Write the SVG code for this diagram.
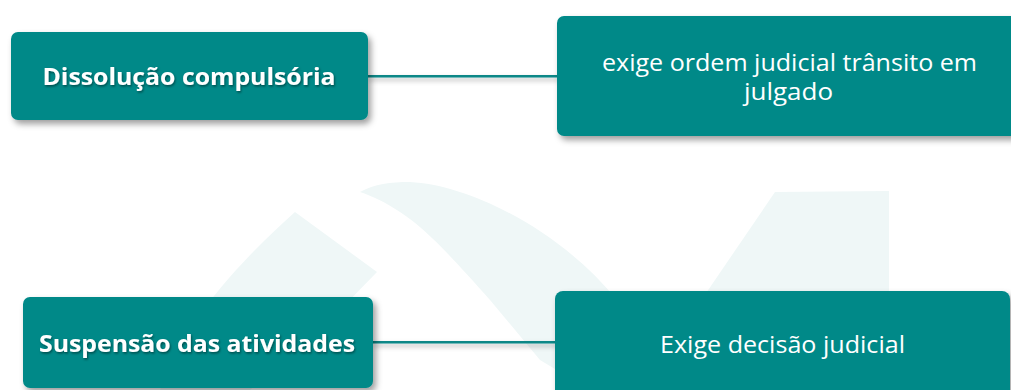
<svg xmlns="http://www.w3.org/2000/svg" width="1011" height="390" viewBox="0 0 1011 390">
  <defs>
    <filter id="sh" x="-10%" y="-20%" width="130%" height="160%">
      <feDropShadow dx="3" dy="4" stdDeviation="3" flood-color="#000" flood-opacity="0.38"/>
    </filter>
    <filter id="lsh" filterUnits="userSpaceOnUse" x="0" y="0" width="1011" height="390">
      <feDropShadow dx="2" dy="3" stdDeviation="2.5" flood-color="#000" flood-opacity="0.3"/>
    </filter>
    <filter id="tsh" x="-5%" y="-30%" width="110%" height="160%">
      <feDropShadow dx="1" dy="1.5" stdDeviation="1" flood-color="#000" flood-opacity="0.45"/>
    </filter>
    <style>
      .box { fill: #008988; filter: url(#sh); }
      .wm { fill: #eff7f7; stroke: none; }
      .conn { stroke: #0d8787; stroke-width: 2.5; fill: none; filter: url(#lsh); }
      .tb { font-family: "Open Sans", "Noto Sans", sans-serif; font-weight: 700; font-size: 24px; fill: #ffffff; text-anchor: middle; filter: url(#tsh); }
      .tr { font-family: "Open Sans", "Noto Sans", sans-serif; font-weight: 400; font-size: 23.5px; fill: #ffffff; text-anchor: middle; }
    </style>
  </defs>
  <rect width="1011" height="390" fill="#ffffff"/>
  <g id="watermark">
    <path class="wm" d="M295,212 L377,272 L340,310 L250,390 L160,390 C180,330 230,270 295,212 Z"/>
    <path class="wm" d="M360,192 C375,184 390,182 410,182 C470,185 560,230 617,300 L665,390 L590,390 L540,360 L490,300 C450,255 425,228 400,212 C385,202 372,196 360,192 Z"/>
    <path class="wm" d="M775,192 L889,191 L889,390 L640,390 Z"/>
  </g>
  <g id="connectors">
    <line class="conn" x1="367" y1="76.3" x2="558" y2="76.3"/>
    <line class="conn" x1="372" y1="342.3" x2="556" y2="342.3"/>
  </g>
  <g id="node-dissolucao">
    <rect class="box" x="11" y="32" width="357" height="88" rx="7"/>
    <text class="tb" x="189" y="84.5" textLength="293" lengthAdjust="spacingAndGlyphs">Dissolução compulsória</text>
  </g>
  <g id="node-exige-ordem">
    <rect class="box" x="557" y="16" width="470" height="120" rx="7"/>
    <text class="tr" x="789.5" y="71" textLength="375" lengthAdjust="spacingAndGlyphs">exige ordem judicial trânsito em</text>
    <text class="tr" x="788.5" y="100" textLength="89" lengthAdjust="spacingAndGlyphs">julgado</text>
  </g>
  <g id="node-suspensao">
    <rect class="box" x="23" y="297" width="350" height="91" rx="7"/>
    <text class="tb" x="197" y="351.5" textLength="316" lengthAdjust="spacingAndGlyphs">Suspensão das atividades</text>
  </g>
  <g id="node-exige-decisao">
    <rect class="box" x="555" y="291" width="455" height="120" rx="8"/>
    <text class="tr" x="782.5" y="353" textLength="245" lengthAdjust="spacingAndGlyphs">Exige decisão judicial</text>
  </g>
</svg>
